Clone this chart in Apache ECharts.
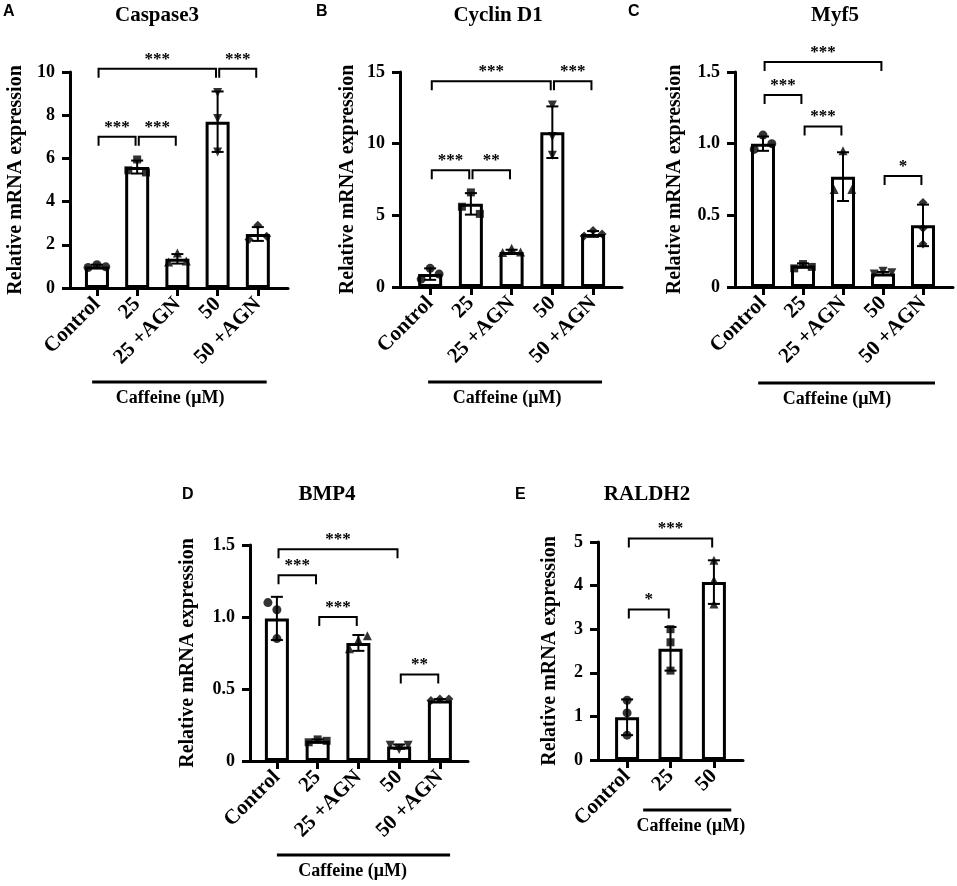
<!DOCTYPE html>
<html>
<head>
<meta charset="utf-8">
<script src="https://cdn.jsdelivr.net/npm/echarts@6/dist/echarts.min.js"></script>
<style>
  html, body { margin: 0; padding: 0; background: #fff; }
  #chart { width: 957px; height: 886px; }
</style>
</head>
<body>
<div id="chart"></div>
<script>
// groups on the x axis
const groups5 = ['Control', '25', '25 +AGN', '50', '50 +AGN'];
const groups3 = ['Control', '25', '50'];

// A - Caspase3
const caspMean = [1.0, 5.6, 1.35, 7.7, 2.5];
const caspSd = [0.08, 0.3, 0.22, 1.4, 0.32];
const caspPts = [[0.95, 1.08, 0.98], [5.45, 5.95, 5.35], [1.2, 1.62, 1.25], [9.05, 7.85, 6.3], [2.25, 2.9, 2.4]];
const caspSig = [[0, 3, 10.15, '***'], [3, 4, 10.15, '***'], [0, 1, 7.0, '***'], [1, 2, 7.0, '***']];

// B - Cyclin D1
const cycMean = [0.9, 5.8, 2.45, 10.8, 3.7];
const cycSd = [0.4, 0.75, 0.15, 1.8, 0.2];
const cycPts = [[0.55, 1.3, 0.9], [5.6, 6.6, 5.1], [2.4, 2.7, 2.45], [12.7, 10.5, 9.2], [3.55, 3.95, 3.7]];
const cycSig = [[0, 3, 14.35, '***'], [3, 4, 14.35, '***'], [0, 1, 8.15, '***'], [1, 2, 8.15, '**']];

// C - Myf5
const myfMean = [1.0, 0.15, 0.77, 0.095, 0.43];
const myfSd = [0.05, 0.015, 0.17, 0.01, 0.145];
const myfPts = [[0.96, 1.06, 1.0], [0.13, 0.16, 0.14], [0.68, 0.95, 0.68], [0.09, 0.11, 0.1], [0.59, 0.41, 0.3]];
const myfSig = [[0, 3, 1.57, '***'], [0, 1, 1.34, '***'], [1, 2, 1.12, '***'], [3, 4, 0.775, '*']];

// D - BMP4
const bmpMean = [0.99, 0.14, 0.82, 0.1, 0.42];
const bmpSd = [0.15, 0.01, 0.055, 0.015, 0.01];
const bmpPts = [[1.1, 1.05, 0.85], [0.13, 0.15, 0.14], [0.78, 0.84, 0.87], [0.11, 0.08, 0.11], [0.42, 0.43, 0.43]];
const bmpSig = [[0, 3, 1.47, '***'], [0, 1, 1.29, '***'], [1, 2, 1.0, '***'], [3, 4, 0.6, '**']];

// E - RALDH2
const raldMean = [0.98, 2.55, 4.08];
const raldSd = [0.41, 0.5, 0.5];
const raldPts = [[1.37, 1.08, 0.57], [3.0, 2.7, 2.05], [4.58, 4.12, 3.58]];
const raldSig = [[0, 2, 5.08, '***'], [0, 1, 3.45, '*']];

const SERIF = '"Liberation Serif", "Times New Roman", serif';
const SANS = '"Liberation Sans", Arial, sans-serif';

const panels = [
  { letter: 'A', title: 'Caspase3', cats: groups5, mean: caspMean, sd: caspSd, pts: caspPts, sig: caspSig,
    grid: { left: 70, top: 72, width: 218, height: 216 }, xr: [-0.67, 4.75], ymax: 10, step: 2, nameGap: 44,
    titlePos: [157, 16], letterPos: [3, 12], caffeine: [-0.12, 4.22, 1.82], capOffset: 94,
    symbols: ['circle', 'rect', 'triangle', 'triangle', 'diamond'], rot: [0, 0, 0, 180, 0] },
  { letter: 'B', title: 'Cyclin D1', cats: groups5, mean: cycMean, sd: cycSd, pts: cycPts, sig: cycSig,
    grid: { left: 400, top: 72, width: 222, height: 215 }, xr: [-0.74, 4.71], ymax: 15, step: 5, nameGap: 42,
    titlePos: [498, 16], letterPos: [316, 12], caffeine: [-0.05, 4.22, 1.89], capOffset: 95,
    symbols: ['circle', 'rect', 'triangle', 'triangle', 'diamond'], rot: [0, 0, 0, 180, 0] },
  { letter: 'C', title: 'Myf5', cats: groups5, mean: myfMean, sd: myfSd, pts: myfPts, sig: myfSig,
    grid: { left: 735, top: 72, width: 218, height: 215 }, xr: [-0.7, 4.75], ymax: 1.5, step: 0.5, nameGap: 50,
    titlePos: [835, 16], letterPos: [628, 12], caffeine: [-0.12, 4.3, 1.85], capOffset: 96,
    symbols: ['circle', 'rect', 'triangle', 'triangle', 'diamond'], rot: [0, 0, 0, 180, 0] },
  { letter: 'D', title: 'BMP4', cats: groups5, mean: bmpMean, sd: bmpSd, pts: bmpPts, sig: bmpSig,
    grid: { left: 250, top: 545, width: 218, height: 216 }, xr: [-0.66, 4.69], ymax: 1.5, step: 0.5, nameGap: 52,
    titlePos: [327, 495], letterPos: [182, 495], caffeine: [0, 4.25, 1.86], capOffset: 94,
    symbols: ['circle', 'rect', 'triangle', 'triangle', 'diamond'], rot: [0, 0, 0, 180, 0] },
  { letter: 'E', title: 'RALDH2', cats: groups3, mean: raldMean, sd: raldSd, pts: raldPts, sig: raldSig,
    grid: { left: 598, top: 542, width: 145, height: 218 }, xr: [-0.67, 2.67], ymax: 5, step: 1, nameGap: 38,
    titlePos: [647, 495], letterPos: [515, 495], caffeine: [0.37, 2.4, 1.47], capOffset: 50,
    symbols: ['circle', 'rect', 'triangle'], rot: [0, 0, 0] }
];

const fmtTick = (step) => (v) => (v === 0 ? '0' : (step < 1 ? v.toFixed(1) : String(v)));

// spread points sideways only where they would overlap
function jitter(vals, range) {
  return vals.map((v, k) => {
    const near = vals.some((w, m) => m !== k && Math.abs(w - v) < range * 0.05);
    return near ? (k - 1) * 0.22 : 0;
  });
}

const grid = [], xAxis = [], yAxis = [], series = [], graphic = [];

panels.forEach((p, g) => {
  grid.push(p.grid);
  const idx = p.cats.map((c, i) => i);
  xAxis.push({
    gridIndex: g, type: 'value', min: p.xr[0], max: p.xr[1],
    splitLine: { show: false },
    axisLine: { show: true, onZero: false, lineStyle: { color: '#000', width: 3 } },
    axisTick: { show: true, customValues: idx, length: 8, lineStyle: { color: '#000', width: 3 } },
    axisLabel: {
      customValues: idx, rotate: 45, margin: 13, color: '#000',
      fontFamily: SERIF, fontWeight: 'bold', fontSize: 21,
      formatter: (v) => p.cats[Math.round(v)]
    }
  });
  yAxis.push({
    gridIndex: g, type: 'value', min: 0, max: p.ymax, interval: p.step,
    name: 'Relative mRNA expression', nameLocation: 'middle', nameGap: p.nameGap,
    nameTextStyle: { fontFamily: SERIF, fontWeight: 'bold', fontSize: 20, color: '#000' },
    splitLine: { show: false },
    axisLine: { show: true, onZero: false, lineStyle: { color: '#000', width: 3 } },
    axisTick: { show: true, length: 8, lineStyle: { color: '#000', width: 3 } },
    axisLabel: { color: '#000', fontFamily: SERIF, fontWeight: 'bold', fontSize: 18, margin: 15, formatter: fmtTick(p.step) }
  });

  // bars
  series.push({
    type: 'bar', xAxisIndex: g, yAxisIndex: g, barWidth: 24, z: 2,
    data: p.mean.map((v, i) => [i, v]),
    itemStyle: { color: '#fff', borderColor: '#000', borderWidth: 3 },
    silent: true
  });

  // error bars (mean ± SD)
  series.push({
    type: 'custom', xAxisIndex: g, yAxisIndex: g, z: 3,
    data: p.mean.map((v, i) => [i, v - p.sd[i], v + p.sd[i]]),
    renderItem: (params, api) => {
      const lo = api.coord([api.value(0), api.value(1)]);
      const hi = api.coord([api.value(0), api.value(2)]);
      const st = { stroke: '#000', lineWidth: 2 };
      return {
        type: 'group', children: [
          { type: 'line', shape: { x1: lo[0], y1: lo[1], x2: hi[0], y2: hi[1] }, style: st },
          { type: 'line', shape: { x1: hi[0] - 6, y1: hi[1], x2: hi[0] + 6, y2: hi[1] }, style: st },
          { type: 'line', shape: { x1: lo[0] - 6, y1: lo[1], x2: lo[0] + 6, y2: lo[1] }, style: st }
        ]
      };
    }
  });

  // individual replicates
  p.pts.forEach((vals, i) => {
    const off = jitter(vals, p.ymax);
    series.push({
      type: 'scatter', xAxisIndex: g, yAxisIndex: g, z: 4,
      symbol: p.symbols[i], symbolRotate: p.rot[i],
      symbolSize: p.symbols[i] === 'rect' ? 8 : 9,
      itemStyle: { color: '#000' },
      data: vals.map((v, k) => [i + off[k], v])
    });
  });

  // significance brackets
  series.push({
    type: 'custom', xAxisIndex: g, yAxisIndex: g, z: 5,
    data: p.sig.map((s) => [s[0], s[1], s[2]]),
    renderItem: (params, api) => {
      const s = p.sig[params.dataIndex];
      const a = api.coord([api.value(0) + 0.04, api.value(2)]);
      const b = api.coord([api.value(1) - 0.04, api.value(2)]);
      return {
        type: 'group', children: [
          { type: 'polyline', shape: { points: [[a[0], a[1] + 9], a, b, [b[0], b[1] + 9]] },
            style: { stroke: '#000', lineWidth: 2, fill: null } },
          { type: 'text', x: (a[0] + b[0]) / 2, y: a[1] - 1,
            style: { text: s[3], align: 'center', verticalAlign: 'bottom',
              font: 'bold 17px ' + SERIF, fill: '#000' } }
        ]
      };
    }
  });

  // "Caffeine (µM)" group line under the labels
  series.push({
    type: 'custom', xAxisIndex: g, yAxisIndex: g, z: 5,
    data: [[p.caffeine[0], p.caffeine[1], p.caffeine[2]]],
    renderItem: (params, api) => {
      const a = api.coord([api.value(0), 0]);
      const b = api.coord([api.value(1), 0]);
      const t = api.coord([api.value(2), 0]);
      const y = a[1] + p.capOffset;
      return {
        type: 'group', children: [
          { type: 'line', shape: { x1: a[0], y1: y, x2: b[0], y2: y }, style: { stroke: '#000', lineWidth: 3 } },
          { type: 'text', x: t[0], y: y + 16,
            style: { text: 'Caffeine (μM)', align: 'center', verticalAlign: 'middle',
              font: 'bold 18px ' + SERIF, fill: '#000' } }
        ]
      };
    }
  });

  graphic.push({
    type: 'text', x: p.titlePos[0], y: p.titlePos[1],
    style: { text: p.title, align: 'center', verticalAlign: 'middle', font: 'bold 21px ' + SERIF, fill: '#000' }
  });
  graphic.push({
    type: 'text', x: p.letterPos[0], y: p.letterPos[1],
    style: { text: p.letter, align: 'left', verticalAlign: 'middle', font: 'bold 16px ' + SANS, fill: '#000' }
  });
});

const chart = echarts.init(document.getElementById('chart'), null, { renderer: 'canvas' });
chart.setOption({
  backgroundColor: '#fff',
  animation: false,
  grid, xAxis, yAxis, series, graphic
});
</script>
</body>
</html>
